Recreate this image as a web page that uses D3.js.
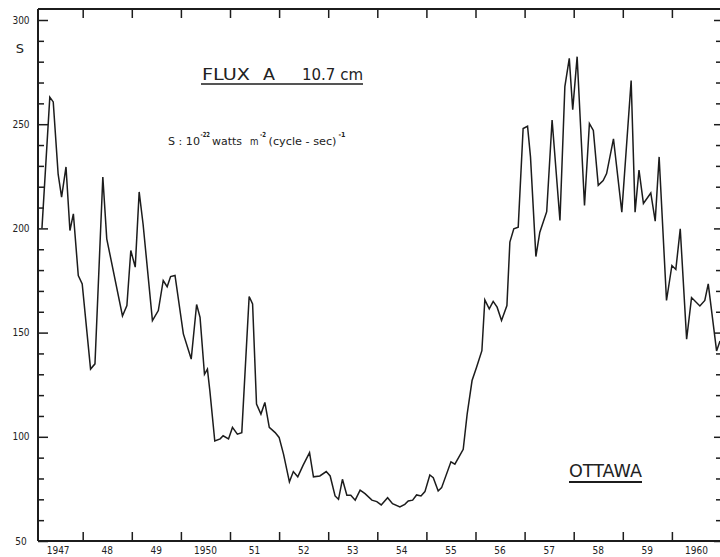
<!DOCTYPE html>
<html>
<head>
<meta charset="utf-8">
<script src="https://cdn.jsdelivr.net/npm/d3@7"></script>
<style>
  html, body { margin: 0; padding: 0; background: #fff; }
  svg { display: block; }
  text { font-family: "DejaVu Sans", sans-serif; fill: #222; }
</style>
</head>
<body>
<svg id="chart" width="720" height="557"></svg>
<script>
// monthly flux (decimal year, S units)
const years = [
  1947.17, 1947.33, 1947.40, 1947.50, 1947.57, 1947.66, 1947.74, 1947.81, 1947.91, 1947.99,
  1948.16, 1948.25, 1948.41, 1948.49, 1948.81, 1948.90, 1948.98,
  1949.07, 1949.15, 1949.23, 1949.42, 1949.54, 1949.64, 1949.72, 1949.79, 1949.88,
  1950.05, 1950.21, 1950.32, 1950.39, 1950.48, 1950.54, 1950.59, 1950.69, 1950.80, 1950.86, 1950.97,
  1951.05, 1951.15, 1951.24, 1951.39, 1951.46, 1951.54, 1951.63, 1951.71, 1951.80, 1951.92,
  1952.00, 1952.09, 1952.21, 1952.29, 1952.38, 1952.49, 1952.62, 1952.70, 1952.83, 1952.96,
  1953.04, 1953.14, 1953.21, 1953.29, 1953.38, 1953.46, 1953.55, 1953.65, 1953.75, 1953.89, 1953.99,
  1954.08, 1954.21, 1954.31, 1954.46, 1954.56, 1954.63, 1954.72, 1954.80, 1954.89, 1954.97,
  1955.07, 1955.14, 1955.24, 1955.31, 1955.50, 1955.58, 1955.75, 1955.83, 1955.93,
  1956.02, 1956.13, 1956.19, 1956.28, 1956.36, 1956.44, 1956.53, 1956.64, 1956.70, 1956.78, 1956.87, 1956.97,
  1957.06, 1957.12, 1957.23, 1957.31, 1957.45, 1957.56, 1957.72, 1957.82, 1957.91, 1957.98,
  1958.07, 1958.22, 1958.32, 1958.40, 1958.50, 1958.60, 1958.67, 1958.81, 1958.98,
  1959.17, 1959.25, 1959.33, 1959.42, 1959.57, 1959.66, 1959.74, 1959.89,
  1960.00, 1960.08, 1960.17, 1960.30, 1960.40, 1960.57, 1960.67, 1960.74, 1960.91, 1960.98
]
const flux = [
  200, 263, 260.7, 226, 215, 229.5, 199, 207, 177.4, 173.4,
  132.5, 135, 224.7, 195, 158, 163, 189.4,
  181.4, 217.5, 202, 155.8, 160.6, 175, 172, 176.9, 177.4,
  149.4, 137.3, 163.5, 157.3, 130, 132.5, 122, 98, 99, 100.5, 99,
  104.5, 101.3, 102, 167.3, 163.8, 115.7, 110.9, 116.5, 104.5, 102,
  99.7, 91.7, 78.4, 83.3, 80.8, 86.4, 92.4, 80.8, 81.2, 83.3,
  81.2, 71.6, 70, 79.6, 72, 72, 69.6, 74.4, 72.7, 69.6, 68.9,
  67.3, 70.8, 67.9, 66.3, 67.6, 69.2, 69.6, 72.1, 71.6, 73.7,
  81.7, 80.4, 74, 75.6, 88, 86.9, 94, 110.9, 127,
  133.3, 141.3, 165.7, 161.4, 165, 162.2, 155.8, 163, 193.4, 199.8, 200.6, 247.9,
  249, 234.3, 186.5, 198.2, 208, 252, 203.8, 268, 281.6, 257,
  282.4, 211, 250.3, 247, 220.7, 223, 226.3, 243, 207.8,
  271, 207.8, 228, 212, 217, 203.5, 234.3, 165.4,
  182.2, 180.3, 199.8, 146.8, 166.8, 162.8, 165.4, 173.4, 141.2, 146
]
const yearTicks = d3.range(1948, 1961)
const yearLabels = ['1947', '48', '49', '1950', '51', '52', '53', '54', '55', '56', '57', '58', '59', '1960']
const sMajor = [50, 100, 150, 200, 250, 300]
const sMinor = d3.range(50, 301, 10).filter(d => d % 50 !== 0)

const svg = d3.select('#chart')
const fL = 38, fR = 723, fT = 9, fB = 541

const x = d3.scaleLinear().domain([1947, 1961]).range([33.6, 721])
const y = d3.scaleLinear().domain([50, 300]).range([fB, 20])

const ink = '#1c1c1c'

// frame
const frame = svg.append('g').attr('stroke', ink).attr('fill', 'none')
frame.append('line').attr('x1', fL).attr('x2', fL).attr('y1', fT).attr('y2', fB).attr('stroke-width', 2)
frame.append('line').attr('x1', fL).attr('x2', fR).attr('y1', fB).attr('y2', fB).attr('stroke-width', 2)
frame.append('line').attr('x1', fL).attr('x2', fR).attr('y1', fT).attr('y2', fT).attr('stroke-width', 1.8)
frame.append('line').attr('x1', fR).attr('x2', fR).attr('y1', fT).attr('y2', fB).attr('stroke-width', 2)

function tickAxis (axis, tx, ty) {
  const g = svg.append('g').attr('transform', `translate(${tx},${ty})`).call(axis)
  g.select('.domain').remove()
  g.selectAll('.tick line').attr('stroke', ink).attr('stroke-width', 1.5)
  g.selectAll('.tick text').remove()
  return g
}

// left ticks point inward
tickAxis(d3.axisRight(y).tickValues(sMajor).tickSize(10).tickSizeOuter(0), fL, 0)
tickAxis(d3.axisRight(y).tickValues(sMinor).tickSize(6).tickSizeOuter(0), fL, 0)
// right ticks point inward
tickAxis(d3.axisLeft(y).tickValues(sMajor).tickSize(9).tickSizeOuter(0), fR, 0)
tickAxis(d3.axisLeft(y).tickValues(sMinor).tickSize(7).tickSizeOuter(0), fR, 0)
// bottom and top year ticks
tickAxis(d3.axisTop(x).tickValues(yearTicks).tickSize(9).tickSizeOuter(0), 0, fB)
tickAxis(d3.axisBottom(x).tickValues(yearTicks).tickSize(9).tickSizeOuter(0), 0, fT)

// y labels
svg.append('g').selectAll('text').data(sMajor).join('text')
  .attr('x', 21).attr('y', d => y(d) + 3.5)
  .attr('text-anchor', 'middle')
  .attr('font-size', 10).attr('font-stretch', 'condensed')
  .text(d => d)

svg.append('text').attr('x', 20).attr('y', 53)
  .attr('text-anchor', 'middle').attr('font-size', 13).text('S')

// x labels centred in each year
svg.append('g').selectAll('text').data(yearLabels).join('text')
  .attr('x', (d, i) => x(1947.5 + i)).attr('y', 554)
  .attr('text-anchor', 'middle')
  .attr('font-size', 10).attr('font-stretch', 'condensed')
  .text(d => d)

// flux curve
const line = d3.line().x(d => x(d[0])).y(d => y(d[1]))
svg.append('path')
  .datum(d3.zip(years, flux))
  .attr('d', line)
  .attr('fill', 'none')
  .attr('stroke', ink)
  .attr('stroke-width', 1.5)
  .attr('stroke-linejoin', 'miter')

// title
const title = [
  { t: 'FLUX', x: 202, w: 48 },
  { t: 'A', x: 263, w: 12 },
  { t: '10.7 cm', x: 302, w: 61 }
]
svg.append('g').selectAll('text').data(title).join('text')
  .attr('x', d => d.x).attr('y', 80).attr('font-size', 16)
  .attr('textLength', d => d.w).attr('lengthAdjust', 'spacingAndGlyphs')
  .text(d => d.t)
svg.append('line').attr('x1', 201).attr('x2', 363).attr('y1', 84).attr('y2', 84)
  .attr('stroke', ink).attr('stroke-width', 1.6)

// units
const unit = [
  { t: 'S : 10', x: 168, y: 145, s: 10, w: 32 },
  { t: '-22', x: 200.5, y: 137, s: 7, w: 9.5, b: true },
  { t: 'watts', x: 212, y: 145, s: 10, w: 30 },
  { t: 'm', x: 250, y: 145, s: 10, w: 8.5 },
  { t: '-2', x: 260, y: 137, s: 7, w: 6, b: true },
  { t: '(cycle - sec)', x: 268.5, y: 145, s: 10, w: 68 },
  { t: '-1', x: 338.5, y: 137, s: 7, w: 7, b: true }
]
svg.append('g').selectAll('text').data(unit).join('text')
  .attr('x', d => d.x).attr('y', d => d.y)
  .attr('font-size', d => d.s)
  .attr('font-weight', d => d.b ? 'bold' : null)
  .attr('textLength', d => d.w).attr('lengthAdjust', 'spacingAndGlyphs')
  .text(d => d.t)

// station
svg.append('text').attr('x', 569).attr('y', 477).attr('font-size', 17)
  .attr('textLength', 73).attr('lengthAdjust', 'spacingAndGlyphs').text('OTTAWA')
svg.append('line').attr('x1', 569).attr('x2', 642).attr('y1', 482).attr('y2', 482)
  .attr('stroke', ink).attr('stroke-width', 2)
</script>
</body>
</html>
